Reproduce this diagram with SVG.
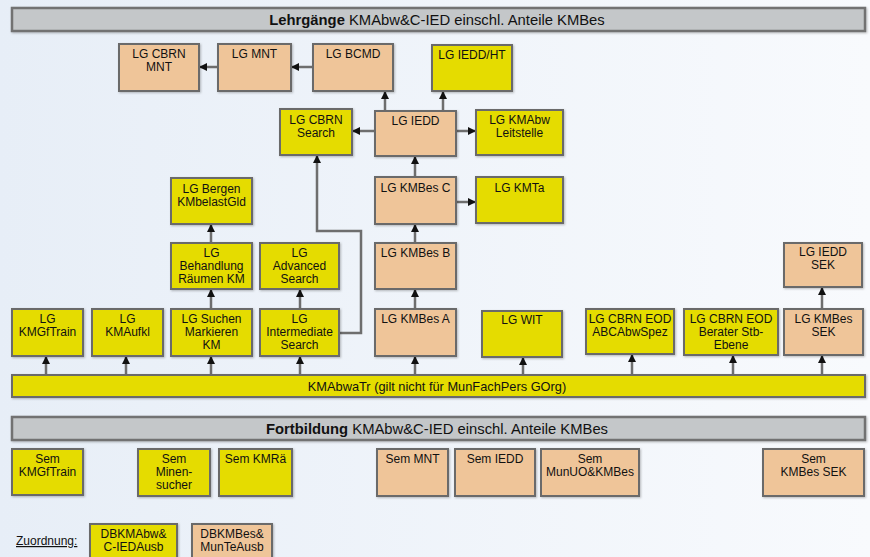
<svg xmlns="http://www.w3.org/2000/svg" width="870" height="557" viewBox="0 0 870 557">
<defs>
<linearGradient id="bg" x1="0" y1="0" x2="1" y2="0">
<stop offset="0" stop-color="#e7eef7"/>
<stop offset="1" stop-color="#f8fafd"/>
</linearGradient>
<marker id="ah" markerUnits="userSpaceOnUse" markerWidth="8" markerHeight="8" refX="7" refY="4" orient="auto">
<path d="M0,0 L8,4 L0,8 z" fill="#111"/>
</marker>
<filter id="sh" x="-10%" y="-10%" width="130%" height="130%">
<feDropShadow dx="1" dy="1" stdDeviation="0.8" flood-color="#000" flood-opacity="0.25"/>
</filter>
</defs>
<style>
text{font-family:"Liberation Sans",Arial,sans-serif;font-size:12px;fill:#111;text-anchor:middle}
.y{fill:#e5dc00;stroke:#6a6a6a;stroke-width:2;filter:url(#sh)}
.o{fill:#efc599;stroke:#6a6a6a;stroke-width:2;filter:url(#sh)}
.hb{fill:#c4c7c9;stroke:#727272;stroke-width:2.5;filter:url(#sh)}
.hd{font-size:14.8px}
.b{font-weight:bold}
#connectors line,#connectors polyline{stroke:#6e6e6e;stroke-width:2.5;fill:none;marker-end:url(#ah)}
</style>
<rect x="0" y="0" width="870" height="557" fill="url(#bg)"/>

<g id="hdr1"><rect class="hb" x="12" y="8" width="853" height="23"/><text class="hd" x="437" y="24.5"><tspan class="b">Lehrgänge</tspan> KMAbw&amp;C-IED einschl. Anteile KMBes</text></g>

<g id="connectors">
<line x1="313" y1="67" x2="292" y2="67"/>
<line x1="218" y1="67" x2="200" y2="67"/>
<line x1="385" y1="111" x2="385" y2="92"/>
<line x1="443" y1="111" x2="443" y2="92"/>
<line x1="375" y1="131" x2="353" y2="131"/>
<line x1="456" y1="131" x2="475" y2="131"/>
<line x1="415" y1="177" x2="415" y2="157"/>
<line x1="456" y1="202" x2="475" y2="202"/>
<line x1="415" y1="243" x2="415" y2="225"/>
<line x1="415" y1="309" x2="415" y2="290"/>
<line x1="211" y1="309" x2="211" y2="290"/>
<line x1="211" y1="243" x2="211" y2="225"/>
<line x1="300" y1="309" x2="300" y2="290"/>
<polyline points="339,333 361,333 361,231 317,231 317,156"/>
<line x1="822" y1="309" x2="822" y2="288"/>
<line x1="46" y1="375" x2="46" y2="357"/>
<line x1="126" y1="375" x2="126" y2="357"/>
<line x1="211" y1="375" x2="211" y2="357"/>
<line x1="300" y1="375" x2="300" y2="357"/>
<line x1="415" y1="375" x2="415" y2="357"/>
<line x1="523" y1="375" x2="523" y2="358"/>
<line x1="632" y1="375" x2="632" y2="355"/>
<line x1="733" y1="375" x2="733" y2="356"/>
<line x1="822" y1="375" x2="822" y2="356"/>
</g>

<g id="cbrnmnt"><rect class="o" x="119" y="44" width="80" height="47"/><text x="159" y="58">LG CBRN</text><text x="159" y="71">MNT</text></g>
<g id="mnt"><rect class="o" x="218" y="44" width="73" height="47"/><text x="254.5" y="58">LG MNT</text></g>
<g id="bcmd"><rect class="o" x="313" y="44" width="80" height="47"/><text x="353" y="58">LG BCMD</text></g>
<g id="ieddht"><rect class="y" x="432" y="45" width="80" height="46"/><text x="472" y="59">LG IEDD/HT</text></g>

<g id="cbrnsearch"><rect class="y" x="280" y="109" width="72" height="46"/><text x="316" y="124">LG CBRN</text><text x="316" y="137">Search</text></g>
<g id="iedd"><rect class="o" x="375" y="111" width="81" height="45"/><text x="415.5" y="125">LG IEDD</text></g>
<g id="leitstelle"><rect class="y" x="476" y="110" width="87" height="45"/><text x="519.5" y="124">LG KMAbw</text><text x="519.5" y="137">Leitstelle</text></g>

<g id="bergen"><rect class="y" x="171" y="178" width="81" height="46"/><text x="211.5" y="193">LG Bergen</text><text x="211.5" y="206">KMbelastGld</text></g>
<g id="kmbesc"><rect class="o" x="375" y="177" width="81" height="47"/><text x="415.5" y="192">LG KMBes C</text></g>
<g id="kmta"><rect class="y" x="476" y="177" width="87" height="46"/><text x="519.5" y="192">LG KMTa</text></g>

<g id="behandlung"><rect class="y" x="171" y="243" width="81" height="46"/><text x="211.5" y="257">LG</text><text x="211.5" y="270">Behandlung</text><text x="211.5" y="283">Räumen KM</text></g>
<g id="advanced"><rect class="y" x="260" y="243" width="79" height="46"/><text x="299.5" y="257">LG</text><text x="299.5" y="270">Advanced</text><text x="299.5" y="283">Search</text></g>
<g id="kmbesb"><rect class="o" x="375" y="243" width="81" height="46"/><text x="415.5" y="257">LG KMBes B</text></g>
<g id="ieddsek"><rect class="o" x="784" y="243" width="78" height="44"/><text x="823" y="256">LG IEDD</text><text x="823" y="269">SEK</text></g>

<g id="kmgftrain"><rect class="y" x="12" y="309" width="71" height="47"/><text x="47.5" y="323">LG</text><text x="47.5" y="336">KMGfTrain</text></g>
<g id="kmaufkl"><rect class="y" x="92" y="309" width="71" height="47"/><text x="127.5" y="323">LG</text><text x="127.5" y="336">KMAufkl</text></g>
<g id="suchen"><rect class="y" x="171" y="309" width="81" height="47"/><text x="211.5" y="323">LG Suchen</text><text x="211.5" y="336">Markieren</text><text x="211.5" y="349">KM</text></g>
<g id="intermediate"><rect class="y" x="260" y="309" width="79" height="47"/><text x="299.5" y="323">LG</text><text x="299.5" y="336">Intermediate</text><text x="299.5" y="349">Search</text></g>
<g id="kmbesa"><rect class="o" x="375" y="309" width="81" height="47"/><text x="415.5" y="323">LG KMBes A</text></g>
<g id="wit"><rect class="y" x="482" y="311" width="80" height="46"/><text x="522" y="324">LG WIT</text></g>
<g id="cbrneod1"><rect class="y" x="586" y="309" width="88" height="45"/><text x="630" y="323">LG CBRN EOD</text><text x="630" y="336">ABCAbwSpez</text></g>
<g id="cbrneod2"><rect class="y" x="684" y="309" width="94" height="46"/><text x="731" y="323">LG CBRN EOD</text><text x="731" y="336">Berater Stb-</text><text x="731" y="349">Ebene</text></g>
<g id="kmbessek"><rect class="o" x="784" y="309" width="79" height="46"/><text x="823.5" y="323">LG KMBes</text><text x="823.5" y="336">SEK</text></g>

<g id="kmabwatr"><rect class="y" x="12" y="375" width="853" height="22"/><text x="437" y="391" style="font-size:12.8px">KMAbwaTr (gilt nicht für MunFachPers GOrg)</text></g>

<g id="hdr2"><rect class="hb" x="12" y="417" width="853" height="23"/><text class="hd" x="437" y="433.5"><tspan class="b">Fortbildung</tspan> KMAbw&amp;C-IED einschl. Anteile KMBes</text></g>

<g id="semkmgf"><rect class="y" x="12" y="449" width="71" height="46"/><text x="47.5" y="463">Sem</text><text x="47.5" y="476">KMGfTrain</text></g>
<g id="semminen"><rect class="y" x="138" y="449" width="72" height="47"/><text x="174" y="463">Sem</text><text x="174" y="476">Minen-</text><text x="174" y="489">sucher</text></g>
<g id="semkmrae"><rect class="y" x="219" y="449" width="73" height="47"/><text x="255.5" y="463">Sem KMRä</text></g>
<g id="semmnt"><rect class="o" x="377" y="449" width="71" height="47"/><text x="412.5" y="463">Sem MNT</text></g>
<g id="semiedd"><rect class="o" x="455" y="449" width="80" height="47"/><text x="495" y="463">Sem IEDD</text></g>
<g id="semmunuo"><rect class="o" x="541" y="449" width="98" height="47"/><text x="590" y="463">Sem</text><text x="590" y="476">MunUO&amp;KMBes</text></g>
<g id="semkmbessek"><rect class="o" x="763" y="449" width="101" height="47"/><text x="813.5" y="463">Sem</text><text x="813.5" y="476">KMBes SEK</text></g>

<g id="legend">
<text x="16" y="545" style="text-anchor:start;text-decoration:underline">Zuordnung:</text>
<g id="leg1"><rect class="y" x="90" y="524" width="87" height="40"/><text x="133.5" y="538">DBKMAbw&amp;</text><text x="133.5" y="551">C-IEDAusb</text></g>
<g id="leg2"><rect class="o" x="192" y="524" width="80" height="40"/><text x="232" y="538">DBKMBes&amp;</text><text x="232" y="551">MunTeAusb</text></g>
</g>
</svg>
